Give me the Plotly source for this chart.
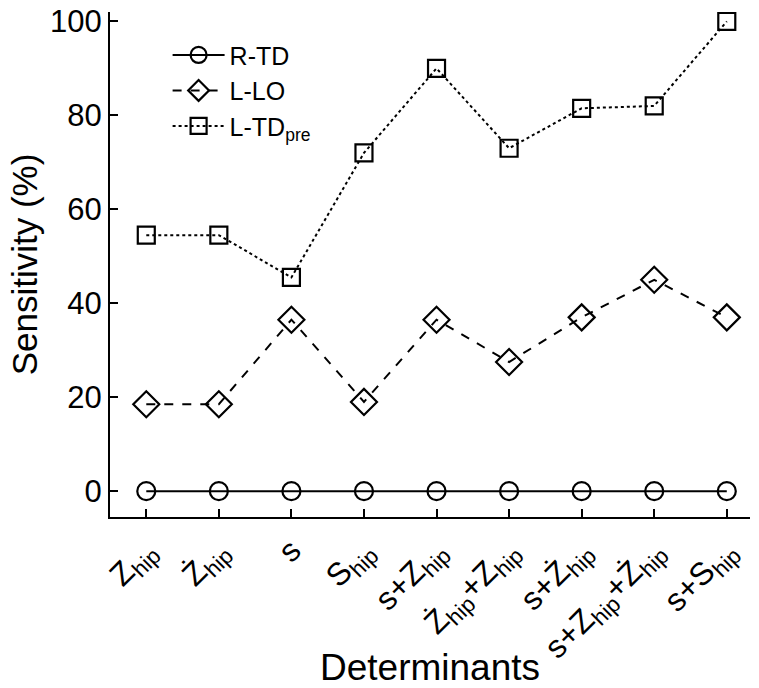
import plotly.graph_objects as go

categories = ["Z<sub>hip</sub>", "Ż<sub>hip</sub>", "s", "S<sub>hip</sub>",
              "s+Z<sub>hip</sub>", "Ż<sub>hip</sub>+Z<sub>hip</sub>", "s+Ż<sub>hip</sub>",
              "s+Z<sub>hip</sub>+Ż<sub>hip</sub>", "s+S<sub>hip</sub>"]
r_td = [0, 0, 0, 0, 0, 0, 0, 0, 0]
l_lo = [18.5, 18.5, 36.5, 19, 36.5, 27.5, 37, 45, 37]
l_td_pre = [54.5, 54.5, 45.5, 72, 90, 73, 81.5, 82, 100]

x = list(range(len(categories)))
FONT = "Arial, Liberation Sans, sans-serif"

fig = go.Figure()
fig.add_trace(go.Scatter(x=x, y=r_td, name="R-TD", mode="lines+markers",
                         line=dict(color="black", width=2, dash="solid"),
                         marker=dict(symbol="circle-open", size=18, color="black", line=dict(width=2.2))))
fig.add_trace(go.Scatter(x=x, y=l_lo, name="L-LO", mode="lines+markers",
                         line=dict(color="black", width=2, dash="dash"),
                         marker=dict(symbol="diamond-open", size=20, color="black", line=dict(width=2.2))))
fig.add_trace(go.Scatter(x=x, y=l_td_pre, name="L-TD<sub>pre</sub>", mode="lines+markers",
                         line=dict(color="black", width=2, dash="dot"),
                         marker=dict(symbol="square-open", size=17, color="black", line=dict(width=2.2))))

fig.update_layout(
    width=759, height=688,
    margin=dict(l=110, r=9, t=12, b=171, autoexpand=False),
    paper_bgcolor="white", plot_bgcolor="white",
    font=dict(family=FONT, color="black"),
    showlegend=True,
    legend=dict(x=0.09, y=0.96, xanchor="left", yanchor="top", bgcolor="rgba(0,0,0,0)",
                font=dict(size=25, family=FONT), tracegroupgap=0, itemwidth=52),
    xaxis=dict(tickmode="array", tickvals=x, ticktext=categories, range=[-0.5, 8.32],
               tickangle=-45, tickfont=dict(size=32, family=FONT), automargin=False,
               ticks="inside", ticklen=8, tickwidth=2, tickcolor="black",
               showline=True, linecolor="black", linewidth=2, showgrid=False, zeroline=False,
               title=dict(text="Determinants", font=dict(size=37, family=FONT), standoff=10)),
    yaxis=dict(range=[-5.5, 102], tickvals=[0, 20, 40, 60, 80, 100], automargin=False,
               tickfont=dict(size=31, family=FONT),
               ticks="inside", ticklen=8, tickwidth=2, tickcolor="black",
               showline=True, linecolor="black", linewidth=2, showgrid=False, zeroline=False,
               title=dict(text="Sensitivity (%)", font=dict(size=35, family=FONT), standoff=2)),
)

fig.write_html("out.html", config={"displayModeBar": False},
               post_script="document.body.style.margin='0';")
